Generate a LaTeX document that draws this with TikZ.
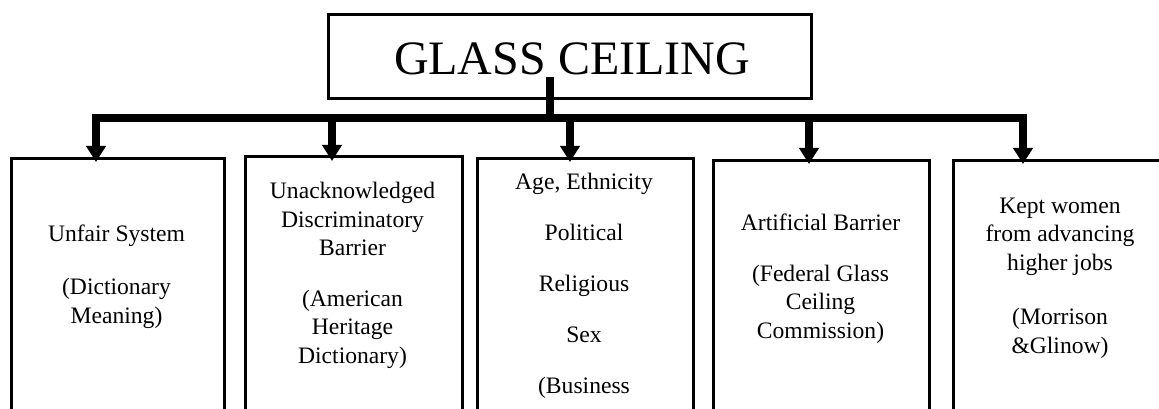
\documentclass[tikz,border=0pt]{standalone}
\usepackage{fontspec}
\setmainfont{Liberation Serif}
\usetikzlibrary{arrows.meta,calc}
\begin{document}
\begin{tikzpicture}[x=1pt,y=-1pt,
  boxed/.style={draw, line width=2.6pt, anchor=north west, inner sep=0pt, minimum height=300pt},
  titlebox/.style={draw, line width=3pt, inner sep=0pt, minimum width=483pt, minimum height=84pt},
  titletext/.style={anchor=base, inner sep=0pt, font=\fontsize{48}{56}\selectfont},
  lbl/.style={align=center, anchor=base, inner sep=0pt, font=\fontsize{23.6}{28.5}\selectfont},
  thick bar/.style={line width=8pt},
  link/.style={line width=8pt, -{Triangle[width=19pt,length=16pt]}},
]
\useasboundingbox (0,0) rectangle (1159,409);
\clip (0,0) rectangle (1159,409);

% title
\node[titlebox] (glass) at (569.5,57) {};
\node[titletext] (glasstext) at (572,75) {GLASS CEILING};

% boxes
\node[boxed, minimum width=213pt] (b1) at (10,157) {};
\node[boxed, minimum width=217pt] (b2) at (244,155) {};
\node[boxed, minimum width=216pt] (b3) at (476,157) {};
\node[boxed, minimum width=216pt] (b4) at (712,159) {};
\node[boxed, minimum width=216pt] (b5) at (952,159) {};

% texts (anchored at the baseline of their last line)
\node[lbl] (t1) at (116.5,323) {Unfair System\\[25pt](Dictionary\\Meaning)};
\node[lbl] (t2) at (352.5,363) {Unacknowledged\\Discriminatory\\Barrier\\[22pt](American\\Heritage\\Dictionary)};
\node[lbl] (t3) at (584,393) {Age, Ethnicity\\[22.5pt]Political\\[22.5pt]Religious\\[22.5pt]Sex\\[22.5pt](Business};
\node[lbl] (t4) at (820.5,338) {Artificial Barrier\\[22.5pt](Federal Glass\\Ceiling\\Commission)};
\node[lbl] (t5) at (1060,353) {Kept women\\from advancing\\higher jobs\\[26pt](Morrison\\\&Glinow)};

% connectors
\coordinate (stemtop) at (550,77);
\coordinate (j0) at (550,118);
\coordinate (barL) at (92,118);
\coordinate (barR) at (1027,118);
\coordinate (j1) at (96,118);
\coordinate (j2) at (332,118);
\coordinate (j3) at (570,118);
\coordinate (j4) at (809,118);
\coordinate (j5) at (1023,118);

\draw[line width=7.7pt] (stemtop) -- ($(j0)+(0,4)$);
\draw[thick bar] (barL) -- (barR);
\draw[link] ($(j1)+(0,-4)$) -- ($(j1 |- b1.north)+(0,5)$);
\draw[link] ($(j2)+(0,-4)$) -- ($(j2 |- b2.north)+(0,6)$);
\draw[link] ($(j3)+(0,-4)$) -- ($(j3 |- b3.north)+(0,5)$);
\draw[link] ($(j4)+(0,-4)$) -- ($(j4 |- b4.north)+(0,5)$);
\draw[link] ($(j5)+(0,-4)$) -- ($(j5 |- b5.north)+(0,5)$);
\end{tikzpicture}
\end{document}
